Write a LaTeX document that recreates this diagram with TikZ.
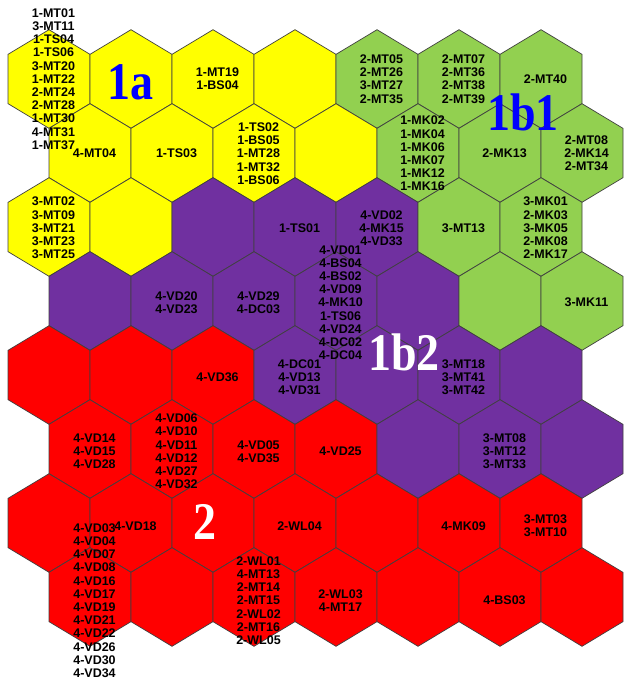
\documentclass[tikz,border=0pt]{standalone}
\usepackage{fontspec}
\usepackage{graphicx}
\setmainfont{Liberation Serif}
\newfontfamily\labfont{Liberation Sans}
\definecolor{hy}{HTML}{FFFF00}
\definecolor{hg}{HTML}{92D050}
\definecolor{hp}{HTML}{7030A0}
\definecolor{hr}{HTML}{FF0000}
\definecolor{hb}{HTML}{0000FF}
\tikzset{
  hexcell/.style={draw=black!75, line width=0.7pt, line join=miter},
  lab/.style={font=\labfont\bfseries\fontsize{12.5}{13.2}\selectfont, align=center, inner sep=0pt, text=black},
  bigblue/.style={font=\bfseries\fontsize{46}{46}\selectfont, text=hb, inner sep=0pt},
  bigwhite/.style={font=\bfseries\fontsize{46}{46}\selectfont, text=white, inner sep=0pt},
}
\newcommand\hexlab[4]{%
  \pgfmathsetmacro\lx{53.5+82*#3+41*mod(#2,2)}%
  \pgfmathsetmacro\ly{79+74.5*#2}%
  \node[lab] (#1) at (\lx,\ly) {#4};}
\begin{document}
\begin{tikzpicture}[x=1pt,y=-1pt]
\useasboundingbox (0,0) rectangle (624,684);
\fill[white] (0,0) rectangle (624,684);
\foreach \r/\c/\k in {
  0/0/hy,0/1/hy,0/2/hy,0/3/hy,0/4/hg,0/5/hg,0/6/hg,
  1/0/hy,1/1/hy,1/2/hy,1/3/hy,1/4/hg,1/5/hg,1/6/hg,
  2/0/hy,2/1/hy,2/2/hp,2/3/hp,2/4/hp,2/5/hg,2/6/hg,
  3/0/hp,3/1/hp,3/2/hp,3/3/hp,3/4/hp,3/5/hg,3/6/hg,
  4/0/hr,4/1/hr,4/2/hr,4/3/hp,4/4/hp,4/5/hp,4/6/hp,
  5/0/hr,5/1/hr,5/2/hr,5/3/hr,5/4/hp,5/5/hp,5/6/hp,
  6/0/hr,6/1/hr,6/2/hr,6/3/hr,6/4/hr,6/5/hr,6/6/hr,
  7/0/hr,7/1/hr,7/2/hr,7/3/hr,7/4/hr,7/5/hr,7/6/hr}{
  \pgfmathsetmacro\cx{49+82*\c+41*mod(\r,2)}
  \pgfmathsetmacro\cy{79+74*\r}
  \filldraw[hexcell, fill=\k] (\cx,\cy-49.3) -- (\cx+41,\cy-24.65) -- (\cx+41,\cy+24.65)
    -- (\cx,\cy+49.3) -- (\cx-41,\cy+24.65) -- (\cx-41,\cy-24.65) -- cycle;
}
\hexlab{a00}{0}{0}{1-MT01\\3-MT11\\1-TS04\\1-TS06\\3-MT20\\1-MT22\\2-MT24\\2-MT28\\1-MT30\\4-MT31\\1-MT37}
\hexlab{a02}{0}{2}{1-MT19\\1-BS04}
\hexlab{a04}{0}{4}{2-MT05\\2-MT26\\3-MT27\\2-MT35}
\hexlab{a05}{0}{5}{2-MT07\\2-MT36\\2-MT38\\2-MT39}
\hexlab{a06}{0}{6}{2-MT40}
\hexlab{a10}{1}{0}{4-MT04}
\hexlab{a11}{1}{1}{1-TS03}
\hexlab{a12}{1}{2}{1-TS02\\1-BS05\\1-MT28\\1-MT32\\1-BS06}
\hexlab{a14}{1}{4}{1-MK02\\1-MK04\\1-MK06\\1-MK07\\1-MK12\\1-MK16}
\hexlab{a15}{1}{5}{2-MK13}
\hexlab{a16}{1}{6}{2-MT08\\2-MK14\\2-MT34}
\hexlab{a20}{2}{0}{3-MT02\\3-MT09\\3-MT21\\3-MT23\\3-MT25}
\hexlab{a23}{2}{3}{1-TS01}
\hexlab{a24}{2}{4}{4-VD02\\4-MK15\\4-VD33}
\hexlab{a25}{2}{5}{3-MT13}
\hexlab{a26}{2}{6}{3-MK01\\2-MK03\\3-MK05\\2-MK08\\2-MK17}
\hexlab{a31}{3}{1}{4-VD20\\4-VD23}
\hexlab{a32}{3}{2}{4-VD29\\4-DC03}
\hexlab{a33}{3}{3}{4-VD01\\4-BS04\\4-BS02\\4-VD09\\4-MK10\\1-TS06\\4-VD24\\4-DC02\\4-DC04}
\hexlab{a36}{3}{6}{3-MK11}
\hexlab{a42}{4}{2}{4-VD36}
\hexlab{a43}{4}{3}{4-DC01\\4-VD13\\4-VD31}
\hexlab{a45}{4}{5}{3-MT18\\3-MT41\\3-MT42}
\hexlab{a50}{5}{0}{4-VD14\\4-VD15\\4-VD28}
\hexlab{a51}{5}{1}{4-VD06\\4-VD10\\4-VD11\\4-VD12\\4-VD27\\4-VD32}
\hexlab{a52}{5}{2}{4-VD05\\4-VD35}
\hexlab{a53}{5}{3}{4-VD25}
\hexlab{a55}{5}{5}{3-MT08\\3-MT12\\3-MT33}
\hexlab{a61}{6}{1}{4-VD18}
\hexlab{a63}{6}{3}{2-WL04}
\hexlab{a65}{6}{5}{4-MK09}
\hexlab{a66}{6}{6}{3-MT03\\3-MT10}
\hexlab{a70}{7}{0}{4-VD03\\4-VD04\\4-VD07\\4-VD08\\4-VD16\\4-VD17\\4-VD19\\4-VD21\\4-VD22\\4-VD26\\4-VD30\\4-VD34}
\hexlab{a72}{7}{2}{2-WL01\\4-MT13\\2-MT14\\2-MT15\\2-WL02\\2-MT16\\2-WL05}
\hexlab{a73}{7}{3}{2-WL03\\4-MT17}
\hexlab{a75}{7}{5}{4-BS03}
\node[bigblue] (t1a) at (130,82) {\scalebox{1}[1.15]{1a}};
\node[bigblue] (t1b1) at (523,112) {\scalebox{1}[1.15]{1b1}};
\node[bigwhite] (t1b2) at (404,352) {\scalebox{1}[1.15]{1b2}};
\node[bigwhite] (t2) at (205,522) {\scalebox{1}[1.15]{2}};
\end{tikzpicture}
\end{document}
